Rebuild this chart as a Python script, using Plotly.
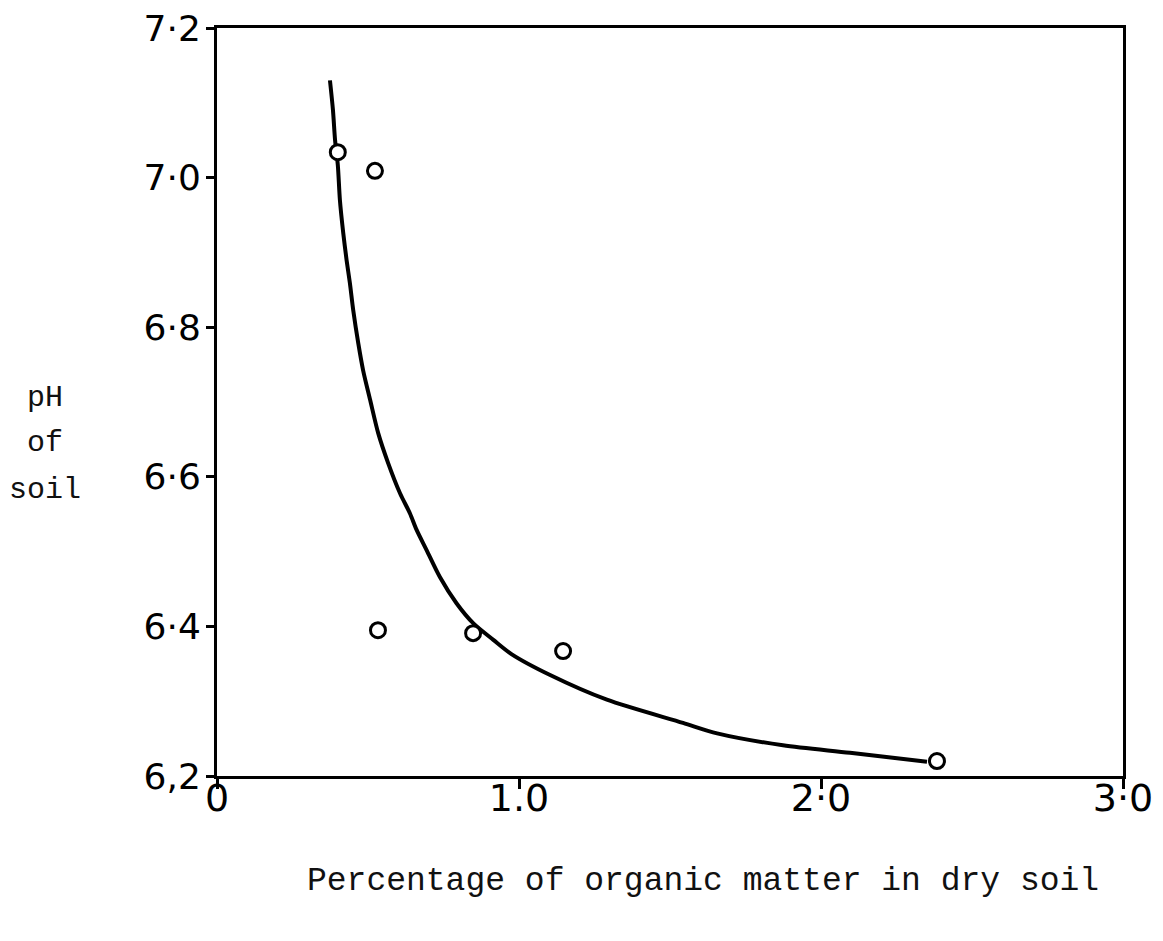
import plotly.graph_objects as go

# Observed data points (percentage organic matter, pH)
obs_x = [0.40, 0.523, 0.533, 0.848, 1.146, 2.384]
obs_y = [7.034, 7.009, 6.395, 6.391, 6.367, 6.220]

# Hand-drawn fitted curve
curve_x = [0.374, 0.384, 0.391, 0.400, 0.407, 0.418, 0.429, 0.440, 0.451, 0.468,
           0.484, 0.507, 0.534, 0.567, 0.606, 0.639, 0.661, 0.694, 0.738, 0.793,
           0.849, 0.915, 0.975, 1.103, 1.291, 1.543, 1.656, 1.874, 2.096, 2.351]
curve_y = [7.130, 7.090, 7.050, 7.017, 6.970, 6.926, 6.890, 6.859, 6.823, 6.778,
           6.742, 6.703, 6.658, 6.618, 6.578, 6.551, 6.529, 6.502, 6.466, 6.431,
           6.404, 6.382, 6.363, 6.335, 6.302, 6.271, 6.257, 6.241, 6.231, 6.219]

x_tickvals = [0, 1, 2, 3]
x_ticktext = ["0", "1.0", "2·0", "3·0"]
y_tickvals = [6.2, 6.4, 6.6, 6.8, 7.0, 7.2]
y_ticktext = ["6,2", "6·4", "6·6", "6·8", "7·0", "7·2"]

x_title = "Percentage of organic matter in dry soil"
y_title_lines = ["pH", "of", "soil"]

# page offset from default body margin
OFF = 8
W, H = 1163 - OFF, 941 - OFF
L, T = 217 - OFF, 28 - OFF
R = W - (1123 - OFF)
B = H - (776 - OFF)
pw, ph = W - L - R, H - T - B


def px_to_paper(px, py):
    return ((px - OFF) - L) / pw, ((H - B) - (py - OFF)) / ph


fig = go.Figure()
fig.add_trace(go.Scatter(
    x=curve_x, y=curve_y, mode="lines",
    line=dict(color="black", width=4, shape="spline", smoothing=0.8),
    showlegend=False, hoverinfo="skip"))
fig.add_trace(go.Scatter(
    x=obs_x, y=obs_y, mode="markers",
    marker=dict(symbol="circle", size=15, color="white",
                line=dict(color="black", width=3)),
    showlegend=False))

fig.update_xaxes(range=[0, 3], tickvals=x_tickvals, ticktext=x_ticktext,
                 showgrid=False, zeroline=False, showline=True, linecolor="black",
                 linewidth=3, mirror=True, ticks="outside", ticklen=10, tickwidth=3,
                 tickcolor="black",
                 tickfont=dict(family="DejaVu Sans", size=38, color="black"),
                 automargin=False, ticklabelstandoff=-24, ticklabeloverflow="allow")
fig.update_yaxes(range=[6.2, 7.2], tickvals=y_tickvals, ticktext=y_ticktext,
                 showgrid=False, zeroline=False, showline=True, linecolor="black",
                 linewidth=3, mirror=True, ticks="outside", ticklen=8, tickwidth=3,
                 tickcolor="black",
                 tickfont=dict(family="DejaVu Sans", size=36, color="black"),
                 automargin=False, ticklabelstandoff=-2, ticklabeloverflow="allow")

ax, ay = px_to_paper(703, 882)
fig.add_annotation(text=x_title, xref="paper", yref="paper", x=ax, y=ay,
                   showarrow=False, xanchor="center", yanchor="middle",
                   font=dict(family="Liberation Mono", size=33, color="#111"))
for line_text, py in zip(y_title_lines, [398, 443, 490]):
    lx, ly = px_to_paper(45, py)
    fig.add_annotation(text=line_text, xref="paper", yref="paper", x=lx, y=ly,
                       showarrow=False, xanchor="center", yanchor="middle",
                       font=dict(family="Liberation Mono", size=30, color="#111"))

fig.update_layout(width=W, height=H,
                  margin=dict(l=L, r=R, t=T, b=B, autoexpand=False),
                  paper_bgcolor="white", plot_bgcolor="white")

fig.write_html("out.html")
